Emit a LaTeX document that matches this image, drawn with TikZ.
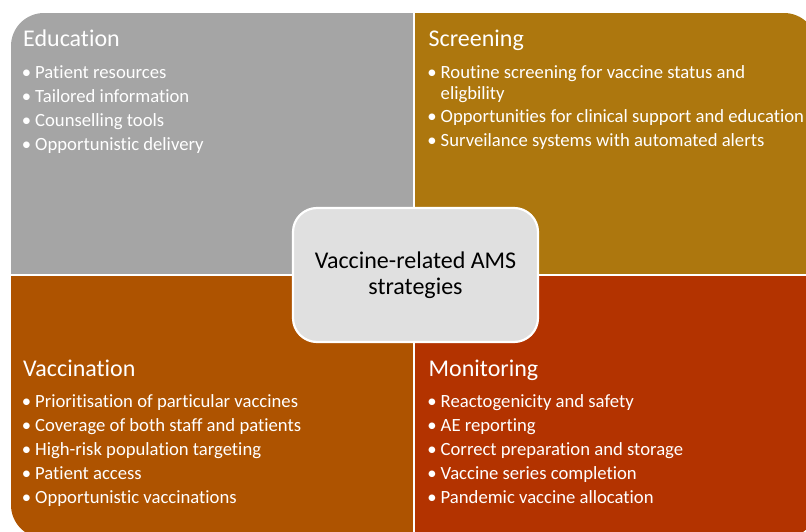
\documentclass[tikz,border=0pt]{standalone}
\usepackage{fontspec}
\setmainfont{Carlito}[RawFeature=-liga,RawFeature=-clig,RawFeature=-calt,RawFeature=-dlig,RawFeature=-rlig]
\definecolor{cEdu}{HTML}{A5A5A5}
\definecolor{cScr}{HTML}{AD770E}
\definecolor{cVac}{HTML}{AE5300}
\definecolor{cMon}{HTML}{B33300}
\definecolor{cCen}{HTML}{E0E0E0}
\tikzset{
  qtitle/.style={anchor=base west, inner sep=0pt, text=white, font=\fontsize{24}{28}\selectfont},
  qitem/.style={anchor=base west, inner sep=0pt, text=white, font=\fontsize{18.67}{21}\selectfont},
  qdot/.style={anchor=base, inner sep=0pt, text=white, font=\fontsize{18.67}{21}\selectfont},
  centerbox/.style={draw=white, line width=2.2pt, fill=cCen, rounded corners=24pt,
    minimum width=245pt, minimum height=134pt, align=center, text=black,
    font=\fontsize{24}{26.5}\selectfont},
  gap/.style={draw=white, line width=2.8pt},
}
\newcommand\bitem[4]{%
  \node[qdot] (#1d) at (#2-8.5,#3) {•};
  \node[qitem] (#1) at (#2,#3) {#4};}
\begin{document}
\begin{tikzpicture}[x=1pt,y=-1pt]
\useasboundingbox (0,0) rectangle (806,532);
\clip (0,0) rectangle (806,532);
% quadrants
\begin{scope}
  \clip[rounded corners=33pt] (11,13) rectangle (817,538);
  \fill[cEdu] (11,13) rectangle (414,275);
  \fill[cScr] (414,13) rectangle (817,275);
  \fill[cVac] (11,275) rectangle (414,538);
  \fill[cMon] (414,275) rectangle (817,538);
\end{scope}
\coordinate (gT) at (414,10);
\coordinate (gB) at (414,540);
\coordinate (gL) at (8,275);
\coordinate (gR) at (820,275);
\draw[gap] (gT) -- (gB);
\draw[gap] (gL) -- (gR);
% Education
\node[qtitle] (edu) at (23,46.7) {Education};
\bitem{e1}{35}{78.5}{Patient resources}
\bitem{e2}{35}{102.5}{Tailored information}
\bitem{e3}{35}{126.5}{Counselling tools}
\bitem{e4}{35}{150.5}{Opportunistic delivery}
% Screening
\node[qtitle] (scr) at (428.5,46.7) {Screening};
\bitem{s1}{440.5}{78.5}{Routine screening for vaccine status and}
\node[qitem] (s1b) at (440.5,99.5) {eligbility};
\bitem{s2}{440.5}{123}{Opportunities for clinical support and education}
\bitem{s3}{440.5}{147}{Surveilance systems with automated alerts}
% Vaccination
\node[qtitle] (vac) at (23,376) {Vaccination};
\bitem{v1}{35}{407.5}{Prioritisation of particular vaccines}
\bitem{v2}{35}{431.5}{Coverage of both staff and patients}
\bitem{v3}{35}{455.5}{High-risk population targeting}
\bitem{v4}{35}{479.5}{Patient access}
\bitem{v5}{35}{503.5}{Opportunistic vaccinations}
% Monitoring
\node[qtitle] (mon) at (428.5,376) {Monitoring};
\bitem{m1}{440.5}{407.5}{Reactogenicity and safety}
\bitem{m2}{440.5}{431.5}{AE reporting}
\bitem{m3}{440.5}{455.5}{Correct preparation and storage}
\bitem{m4}{440.5}{479.5}{Vaccine series completion}
\bitem{m5}{440.5}{503.5}{Pandemic vaccine allocation}
% center
\node[centerbox] (center) at (415.5,275) {Vaccine-related AMS\\strategies};
\end{tikzpicture}
\end{document}
